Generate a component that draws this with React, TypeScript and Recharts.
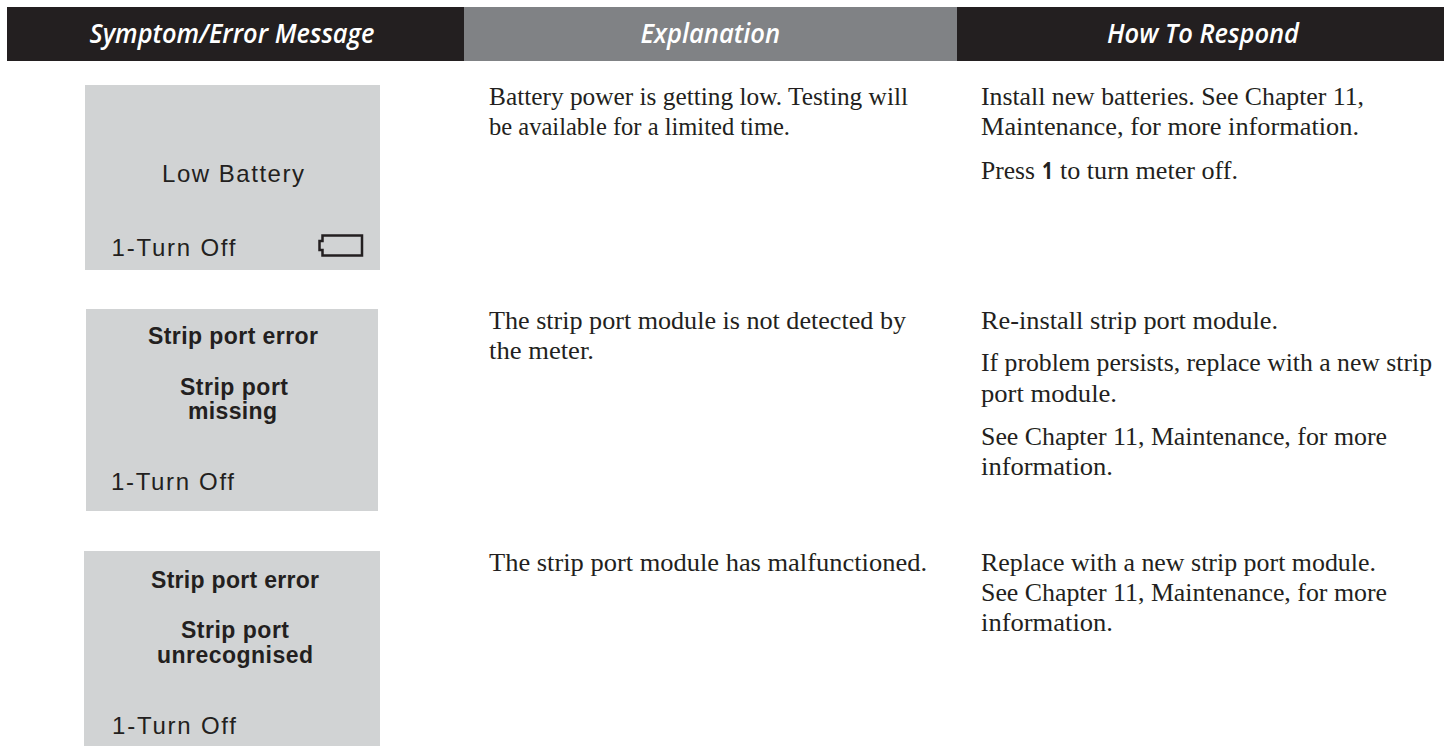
import React from "react";
import { ScatterChart, Scatter, XAxis, YAxis, ReferenceArea } from "recharts";

// ---- content ----
const headers = ["Symptom/Error Message", "Explanation", "How To Respond"];
const screenRegular = ["Low Battery", "1-Turn Off", "1-Turn Off", "1-Turn Off"];
const screenBold = ["Strip port error", "Strip port", "missing", "Strip port error", "Strip port", "unrecognised"];
const explanationLines = [
  "Battery power is getting low. Testing will",
  "be available for a limited time.",
  "The strip port module is not detected by",
  "the meter.",
  "The strip port module has malfunctioned.",
];
const responseLines = [
  "Install new batteries. See Chapter 11,",
  "Maintenance, for more information.",
  "Press ",
  "to turn meter off.",
  "Re-install strip port module.",
  "If problem persists, replace with a new strip",
  "port module.",
  "See Chapter 11, Maintenance, for more",
  "information.",
  "Replace with a new strip port module.",
  "See Chapter 11, Maintenance, for more",
  "information.",
];
const keyLabels = ["1"];

// ---- layout: [left, baseline, width] for each text line, in page units ----
const headerLayout = [[89.5, 43, 285], [640.5, 43, 139.5], [1107, 43, 192]];
const regularLayout = [[162, 182, 142], [111.5, 256, 124], [111, 490, 123], [112, 734, 124]];
const boldLayout = [[148, 344, 170], [180, 395, 108], [188, 419, 89], [151, 588, 168], [181, 638, 108], [157, 663, 156]];
const explanationLayout = [[489, 105, 419], [489, 135, 301], [489, 328.5, 417], [489, 358.5, 105], [489, 571, 438]];
const responseLayout = [
  [981, 105, 383], [981, 135, 378], [981, 178.5, 54], [1060, 178.5, 178],
  [981, 328.5, 297], [981, 371, 451], [981, 401.5, 136], [981, 445, 406], [981, 475, 132],
  [981, 571, 395], [981, 601, 406], [981, 631, 132],
];
const keyLayout = [[1042, 178.5, 11]];
const batteryPoint = [{ x: 319, y: 235 }];

const headerCells = [
  { x1: 7, x2: 464, fill: "#231f20" },
  { x1: 464, x2: 957, fill: "#808285" },
  { x1: 957, x2: 1444, fill: "#231f20" },
];
const headerBand = [7, 61];
const screens = [
  { x1: 85, x2: 380, y1: 85, y2: 270 },
  { x1: 86, x2: 378, y1: 309, y2: 511 },
  { x1: 84, x2: 380, y1: 551, y2: 746 },
];

const place = (lines: string[], layout: number[][]) =>
  lines.map((text, i) => ({ x: layout[i][0], y: layout[i][1], w: layout[i][2], text }));

const textShape = (style: any, adjust = "spacingAndGlyphs") => (p: any) => (
  <text x={p.cx} y={p.cy} textLength={p.payload.w} lengthAdjust={adjust} {...style}>
    {p.payload.text}
  </text>
);

const batteryShape = (p: any) => {
  const x = p.cx;
  const y = p.cy;
  return (
    <path
      d={`M${x + 3.5} ${y + 0.5}H${x + 43}V${y + 20.5}H${x + 3.5}V${y + 15}H${x + 0.5}V${y + 6}H${x + 3.5}Z`}
      fill="none"
      stroke="#231f20"
      strokeWidth={2.5}
    />
  );
};

const SERIF = "'Liberation Serif', serif";
const SANS = "'Liberation Sans', sans-serif";

export default function App() {
  return (
    <div style={{ position: "absolute", left: 0, top: 0, width: 1444, height: 747, background: "#fff" }}>
      <ScatterChart width={1444} height={747} margin={{ top: 0, right: 0, bottom: 0, left: 0 }}>
        <XAxis type="number" dataKey="x" domain={[0, 1444]} hide />
        <YAxis type="number" dataKey="y" domain={[0, 747]} reversed hide />
        {headerCells.map((c, i) => (
          <ReferenceArea key={i} x1={c.x1} x2={c.x2} y1={headerBand[0]} y2={headerBand[1]} fill={c.fill} fillOpacity={1} stroke="none" />
        ))}
        {screens.map((c, i) => (
          <ReferenceArea key={i} x1={c.x1} x2={c.x2} y1={c.y1} y2={c.y2} fill="#d1d3d4" fillOpacity={1} stroke="none" />
        ))}
        <Scatter
          isAnimationActive={false}
          data={place(headers, headerLayout)}
          shape={textShape({ fontFamily: "'Open Sans', sans-serif", fontStyle: "italic", fontWeight: 600, fontSize: 27, fill: "#ffffff" })}
        />
        <Scatter
          isAnimationActive={false}
          data={place(screenRegular, regularLayout)}
          shape={textShape({ fontFamily: SANS, fontSize: 24, fill: "#231f20" }, "spacing")}
        />
        <Scatter
          isAnimationActive={false}
          data={place(screenBold, boldLayout)}
          shape={textShape({ fontFamily: SANS, fontWeight: 700, fontSize: 23, fill: "#231f20" }, "spacing")}
        />
        <Scatter
          isAnimationActive={false}
          data={place(explanationLines, explanationLayout)}
          shape={textShape({ fontFamily: SERIF, fontSize: 25, fill: "#231f20" })}
        />
        <Scatter
          isAnimationActive={false}
          data={place(responseLines, responseLayout)}
          shape={textShape({ fontFamily: SERIF, fontSize: 25, fill: "#231f20" })}
        />
        <Scatter
          isAnimationActive={false}
          data={place(keyLabels, keyLayout)}
          shape={textShape({ fontFamily: "'Open Sans', sans-serif", fontWeight: 700, fontSize: 23, fill: "#231f20" })}
        />
        <Scatter isAnimationActive={false} data={batteryPoint} shape={batteryShape} />
      </ScatterChart>
    </div>
  );
}
